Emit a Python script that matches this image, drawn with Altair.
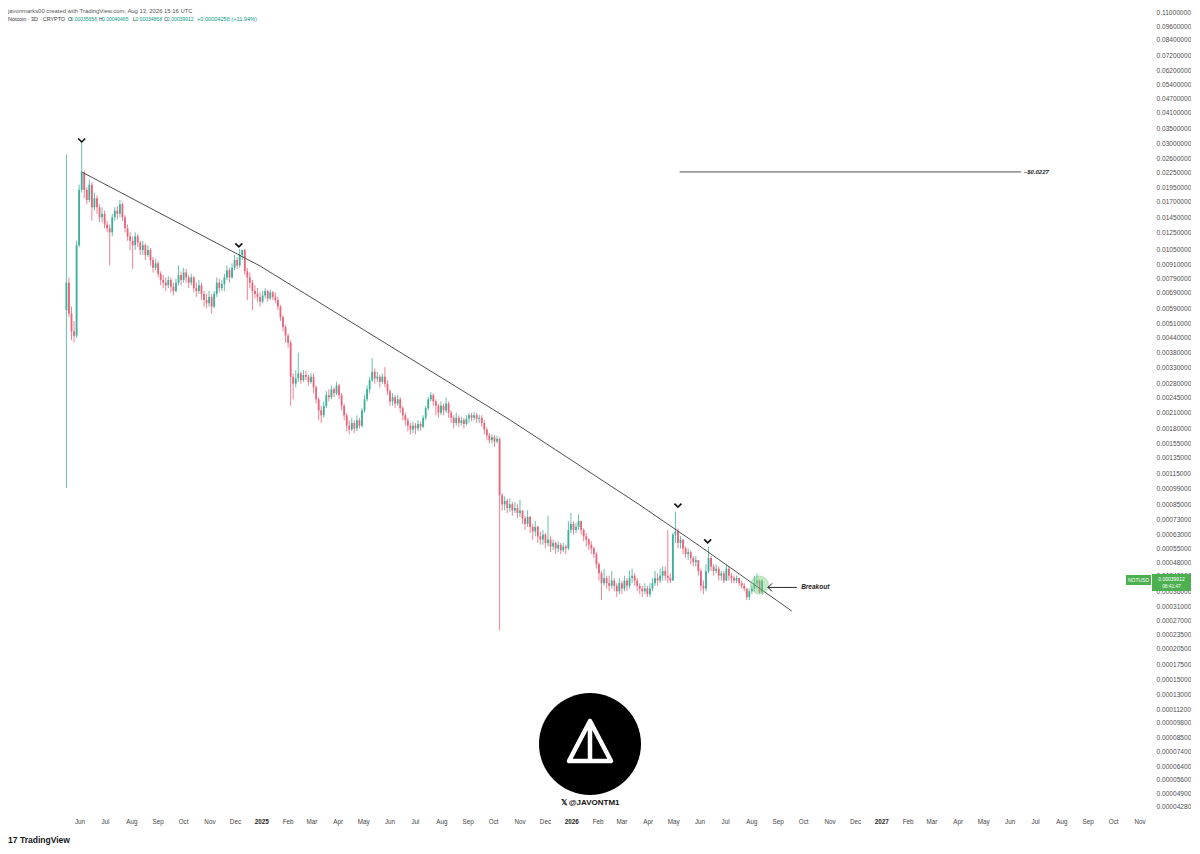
import altair as alt
import numpy as np
import pandas as pd

# ---------------- data (prices in units of 1e-5 USD) ----------------
UNIT = 1e-5
CANDLE_START = "2024-05-16"
CANDLE_STEP = "3D"
FIRST_OPEN = 580

CLOSE = [
    760, 560, 470, 450, 1100, 1900, 2250, 1900, 1720, 2000,
    1600, 1750, 1600, 1450, 1500, 1350, 1300, 1250, 1450, 1550,
    1500, 1650, 1450, 1300, 1200, 1150, 1100, 1200, 1130, 1050,
    1100, 1000, 1050, 950, 880, 920, 830, 780, 760, 740,
    780, 730, 700, 760, 820, 780, 840, 800, 760, 800,
    720, 700, 740, 680, 640, 620, 660, 600, 680, 760,
    720, 750, 800, 860, 800, 880, 950, 900, 1000, 1050,
    850, 800, 760, 700, 680, 660, 630, 670, 700, 650,
    690, 660, 640, 600, 540, 490, 450, 420, 300, 280,
    295, 310, 290, 305, 300, 285, 300, 270, 240, 215,
    205, 225, 250, 245, 265, 255, 275, 250, 225, 205,
    185, 178, 190, 180, 195, 185, 215, 240, 265, 290,
    315, 295, 300, 285, 300, 280, 260, 235, 245, 230,
    240, 220, 205, 195, 185, 178, 185, 180, 188, 183,
    200, 220, 240, 250, 235, 225, 210, 225, 215, 230,
    210, 200, 190, 200, 190, 195, 188, 198, 205, 200,
    205, 198, 200, 190, 178, 168, 160, 165, 158, 162,
    93, 85, 88, 82, 85, 80, 82, 78, 80, 74,
    70, 75, 68, 65, 68, 62, 60, 63, 58, 60,
    56, 58, 55, 57, 54, 56, 55, 66, 70, 66,
    68, 72, 66, 62, 60, 57, 55, 52, 47, 43,
    39, 41, 39, 38,
    40, 38, 36, 39, 37, 40, 38, 41, 42, 40,
    38, 37, 36, 37, 35, 37, 39, 41, 40, 42,
    44, 42, 41, 40, 63, 65, 58, 60, 55, 52,
    53, 50, 48, 49, 44, 38, 37, 44, 50, 46,
    44, 45, 42, 43, 40, 45, 42, 41, 40, 41,
    39, 38, 37, 34, 36, 37, 39,
    40, 35.656, 39.912,
]
HIGH = [
    2700, 800, 600, 520, 1150, 2000, 3050, 2300, 1950, 2100,
    2050, 1850, 1800, 1650, 1600, 1550, 1400, 1350, 1500, 1600,
    1620, 1720, 1680, 1480, 1350, 1250, 1200, 1250, 1230, 1150,
    1150, 1120, 1100, 1070, 980, 960, 940, 850, 820, 800,
    810, 800, 760, 790, 900, 850, 880, 870, 820, 830,
    810, 760, 780, 760, 700, 680, 700, 680, 700, 800,
    790, 780, 830, 900, 880, 920, 1000, 980, 1060, 1050,
    1060, 880, 840, 780, 740, 720, 690, 700, 720, 710,
    710, 700, 690, 660, 610, 550, 500, 460, 430, 310,
    320, 380, 315, 320, 318, 305, 310, 310, 275, 245,
    225, 235, 260, 265, 275, 270, 285, 280, 255, 230,
    210, 195, 200, 195, 205, 200, 220, 250, 275, 300,
    360, 325, 315, 305, 310, 330, 290, 265, 255, 250,
    250, 245, 225, 210, 200, 190, 192, 190, 195, 193,
    205, 225, 245, 258, 255, 240, 230, 235, 230, 245,
    235, 215, 205, 210, 205, 202, 200, 205, 210, 210,
    212, 210, 206, 205, 195, 182, 172, 170, 168, 167,
    165, 95, 92, 90, 90, 87, 87, 85, 89, 80,
    76, 80, 76, 70, 72, 69, 65, 66, 64, 76,
    62, 60, 59, 59, 58, 58, 57, 72, 78, 72,
    71, 77, 72, 67, 64, 61, 59, 56, 53, 48,
    44, 45, 42, 42,
    44, 41, 39, 41, 40, 42, 41, 44, 45, 43,
    41, 39, 38, 39, 38, 39, 41, 44, 43, 45,
    46, 46, 66, 43, 64, 79, 67, 62, 60, 56,
    55, 54, 51, 51, 49, 45, 40, 47, 56, 51,
    47, 47, 46, 44, 44, 47, 46, 43, 42, 42,
    41, 40, 39, 37, 37, 38, 42,
    43, 40.5, 40.465,
]
LOW = [
    100, 540, 430, 420, 440, 1080, 1850, 1750, 1650, 1680,
    1400, 1550, 1500, 1380, 1380, 1300, 1250, 900, 1200, 1400,
    1420, 1450, 1400, 1250, 1150, 1050, 870, 1050, 1080, 1000,
    1000, 950, 980, 900, 840, 860, 800, 740, 720, 700,
    720, 690, 670, 690, 740, 740, 760, 760, 720, 740,
    690, 660, 680, 640, 600, 590, 600, 560, 590, 660,
    690, 700, 700, 780, 760, 790, 860, 870, 880, 950,
    820, 640, 720, 580, 650, 630, 600, 620, 650, 630,
    640, 640, 620, 580, 520, 470, 420, 400, 225, 240,
    270, 285, 280, 285, 290, 275, 280, 255, 230, 195,
    190, 200, 220, 235, 240, 245, 250, 240, 215, 195,
    175, 170, 175, 172, 175, 180, 182, 210, 235, 255,
    285, 280, 285, 270, 280, 270, 250, 225, 225, 220,
    225, 210, 195, 185, 175, 170, 172, 170, 175, 176,
    180, 195, 215, 235, 225, 205, 200, 205, 205, 210,
    200, 190, 180, 185, 182, 185, 180, 185, 190, 193,
    195, 190, 190, 183, 170, 160, 155, 155, 150, 155,
    24.5, 80, 80, 78, 79, 76, 78, 74, 75, 70,
    66, 68, 64, 60, 62, 58, 57, 57, 55, 56,
    53, 54, 52, 53, 52, 53, 52, 54, 64, 63,
    64, 66, 63, 59, 56, 54, 52, 50, 45, 40,
    33, 38, 37, 36,
    37, 36, 34, 35, 35, 36, 36, 37, 39, 38,
    36, 35, 34, 35, 34, 34, 36, 38, 38, 39,
    40, 40, 39, 39, 40, 58, 55, 55, 52, 50,
    49, 47, 46, 46, 42, 36, 35, 36, 43, 44,
    42, 43, 40, 40, 39, 40, 40, 39, 39, 39,
    38, 37, 36, 33, 33, 35, 36,
    37, 35.2, 34.868,
]

# drawn trend line (resistance) through the lower highs
TREND_DATES = ["2024-06-03", "2024-12-30", "2025-10-20", "2026-03-22", "2026-05-31", "2026-09-17"]
TREND_PRICE = [0.0227, 0.00896, 0.00196, 0.000845, 0.000565, 0.000296]

# target line
TARGET_PRICE = 0.0227
TARGET_DATES = ["2026-05-08", "2027-06-14"]
TARGET_LABEL_DATE = "2027-06-17"
TARGET_LABEL = "~$0.0227"

# rejection markers
PEAK_DATES = ["2024-06-03", "2024-12-05", "2026-05-06", "2026-06-10"]
PEAK_PRICE = [0.0310, 0.0110, 0.00084, 0.00059]

# breakout annotation
BREAKOUT_DATE = "2026-08-10"
BREAKOUT_PRICE = 0.000383
ARROW_DATES = ["2026-08-20", "2026-09-23"]
ARROW_PRICE = 0.000374
BREAKOUT_LABEL_DATE = "2026-09-28"

# price axis labels
Y_TICKS = [0.11, 0.096, 0.084, 0.072, 0.062, 0.054, 0.047, 0.041, 0.035, 0.030,
           0.026, 0.0225, 0.0195, 0.017, 0.0145, 0.0125, 0.0105, 0.0091, 0.0079,
           0.0069, 0.0059, 0.0051, 0.0044, 0.0038, 0.0033, 0.0028, 0.00245,
           0.0021, 0.0018, 0.00155, 0.00135, 0.00115, 0.00099, 0.00085, 0.00073,
           0.00063, 0.00055, 0.00048, 0.00042, 0.00036, 0.00031, 0.00027,
           0.000235, 0.000205, 0.000175, 0.00015, 0.00013, 0.000112, 0.000098,
           0.000085, 0.000074, 0.000064, 0.000056, 0.000049, 0.0000428]
# time axis labels (one per month)
X_TICK_START = "2024-06-01"
X_TICK_END = "2027-11-01"

X_DOMAIN = ["2024-03-08T06:00:00", "2027-11-15T02:00:00"]
Y_DOMAIN = [0.00003946, 0.11469]


# ---------------- helpers ----------------
def iso(d):
    return pd.Timestamp(d, tz="UTC").strftime("%Y-%m-%dT%H:%M:%SZ")


def ms(d):
    return int(pd.Timestamp(d, tz="UTC").value // 10**6)


n = len(CLOSE)
assert len(HIGH) == n and len(LOW) == n
dates = pd.date_range(CANDLE_START, periods=n, freq=CANDLE_STEP, tz="UTC")
opens = np.array([FIRST_OPEN] + CLOSE[:-1], dtype=float) * UNIT
closes = np.array(CLOSE, dtype=float) * UNIT
highs = np.maximum.reduce([np.array(HIGH, dtype=float) * UNIT, opens, closes])
lows = np.minimum.reduce([np.array(LOW, dtype=float) * UNIT, opens, closes])
df = pd.DataFrame({
    "date": dates.strftime("%Y-%m-%dT%H:%M:%SZ"),
    "open": opens, "close": closes, "high": highs, "low": lows,
})
df["dir"] = np.where(df["close"] >= df["open"], "up", "down")

months = pd.date_range(X_TICK_START, X_TICK_END, freq="MS", tz="UTC")
mdf = pd.DataFrame({
    "date": months.strftime("%Y-%m-%dT%H:%M:%SZ"),
    "lbl": [str(m.year) if m.month == 1 else m.strftime("%b") for m in months],
    "year": [m.month == 1 for m in months],
})

UP = "#3bb09a"
DOWN = "#ea6379"
LINE = "#3a3a3a"
GREEN = "#4caf50"
FONT = "Liberation Sans"

xscale = alt.Scale(type="utc", domain=[ms(X_DOMAIN[0]), ms(X_DOMAIN[1])], nice=False)
yscale = alt.Scale(type="log", domain=Y_DOMAIN, nice=False)

xaxis = alt.Axis(labels=False, domain=False, ticks=False, grid=False, title=None)
yaxis = alt.Axis(
    orient="right", values=Y_TICKS, format=".8f",
    labelFontSize=6.6, labelColor="#505050", labelFont=FONT,
    domain=False, ticks=False, tickSize=0, grid=False, labelPadding=4,
    labelOverlap=False, labelFlush=False, title=None,
)
color = alt.Color("dir:N", scale=alt.Scale(domain=["up", "down"], range=[UP, DOWN]), legend=None)

XT = alt.X("date:T", title=None)
YP = alt.Y("price:Q", title=None)

base = alt.Chart(df)
wicks = base.mark_rule(strokeWidth=0.8).encode(
    x=alt.X("date:T", scale=xscale, axis=xaxis, title=None),
    y=alt.Y("low:Q", scale=yscale, axis=yaxis, title=None),
    y2="high:Q",
    color=color,
)
bodies = base.mark_rule(strokeWidth=1.8).encode(
    x=XT, y=alt.Y("open:Q", title=None), y2="close:Q", color=color,
)

# month / year labels of the time axis
month_lbl = alt.Chart(mdf).transform_filter("!datum.year").mark_text(
    baseline="middle", align="center", fontSize=6.3, color="#444", font=FONT
).encode(x=XT, y=alt.value(814), text="lbl:N")
year_lbl = alt.Chart(mdf).transform_filter("datum.year").mark_text(
    baseline="middle", align="center", fontSize=6.3, color="#222", font=FONT, fontWeight="bold"
).encode(x=XT, y=alt.value(814), text="lbl:N")

trend_df = pd.DataFrame({"date": [iso(d) for d in TREND_DATES], "price": TREND_PRICE})
trend = alt.Chart(trend_df).mark_line(color=LINE, strokeWidth=0.9).encode(x=XT, y=YP)

target_df = pd.DataFrame({"date": [iso(TARGET_DATES[0])], "date2": [iso(TARGET_DATES[1])],
                          "price": [TARGET_PRICE]})
target = alt.Chart(target_df).mark_rule(color=LINE, strokeWidth=0.9).encode(x=XT, x2="date2:T", y=YP)
target_lbl_df = pd.DataFrame({"date": [iso(TARGET_LABEL_DATE)], "price": [TARGET_PRICE], "t": [TARGET_LABEL]})
target_lbl = alt.Chart(target_lbl_df).mark_text(
    align="left", baseline="middle", fontSize=6, fontStyle="italic", fontWeight="bold",
    color="#222", font=FONT
).encode(x=XT, y=YP, text="t:N")

peaks_df = pd.DataFrame({"date": [iso(d) for d in PEAK_DATES], "price": PEAK_PRICE})
peaks = alt.Chart(peaks_df).mark_point(
    shape="M-1,-0.55L0,0.45L1,-0.55", size=49, filled=False, stroke="#111",
    strokeWidth=1.6, opacity=1
).encode(x=XT, y=YP)

bo_df = pd.DataFrame({"date": [iso(BREAKOUT_DATE)], "price": [BREAKOUT_PRICE]})
bo_circle = alt.Chart(bo_df).mark_circle(
    size=324, color="#7ccf80", opacity=0.45, stroke=GREEN, strokeWidth=0.8
).encode(x=XT, y=YP)

arrow_df = pd.DataFrame({"date": [iso(ARROW_DATES[0])], "date2": [iso(ARROW_DATES[1])], "price": [ARROW_PRICE]})
arrow_shaft = alt.Chart(arrow_df).mark_rule(color="#111", strokeWidth=0.9).encode(x=XT, x2="date2:T", y=YP)
arrow_head = alt.Chart(arrow_df).mark_point(
    shape="M1.6,-1.6L0,0L1.6,1.6", size=25, filled=False, stroke="#111", strokeWidth=1, opacity=1
).encode(x=XT, y=YP)
bo_lbl_df = pd.DataFrame({"date": [iso(BREAKOUT_LABEL_DATE)], "price": [ARROW_PRICE], "t": ["Breakout"]})
bo_lbl = alt.Chart(bo_lbl_df).mark_text(
    align="left", baseline="middle", fontSize=6.5, fontStyle="italic", fontWeight="bold",
    color="#222", font=FONT
).encode(x=XT, y=YP, text="t:N")

ONE = pd.DataFrame({"k": [0]})


def txt(text, x, y, size, col, weight="normal", align="left", font=FONT, style="normal"):
    return alt.Chart(ONE).mark_text(
        text=text, align=align, baseline="middle", fontSize=size, color=col,
        fontWeight=weight, fontStyle=style, font=font
    ).encode(x=alt.value(x), y=alt.value(y))


def box(x1, x2, y1, y2, col):
    return alt.Chart(ONE).mark_rect(color=col).encode(
        x=alt.value(x1), x2=alt.value(x2), y=alt.value(y1), y2=alt.value(y2)
    )


HG = "#089981"
HS = 5.0
header = [
    txt("javonmarks00 created with TradingView.com, Aug 13, 2026 15:16 UTC", 0, 3, 5.9, "#555"),
    txt("Notcoin · 3D · CRYPTO", 0, 10.5, 5.4, "#333"),
    txt("O", 60, 10.5, HS, "#333"), txt("0.00035656", 62.5, 10.5, HS, HG),
    txt("H", 91, 10.5, HS, "#333"), txt("0.00040465", 94, 10.5, HS, HG),
    txt("L", 125, 10.5, HS, "#333"), txt("0.00034868", 127.5, 10.5, HS, HG),
    txt("C", 156, 10.5, HS, "#333"), txt("0.00039912", 159, 10.5, HS, HG),
    txt("+0.00004256 (+11.94%)", 189, 10.5, 5.6, HG),
]

price_tag = [
    box(1118, 1143, 567, 577, GREEN),
    txt("NOTUSD", 1130.5, 572, 5.0, "white", align="center"),
    box(1144, 1183, 566, 583, GREEN),
    txt("0.00039912", 1163.5, 570.5, 5.0, "white", align="center"),
    txt("08:41:47", 1163.5, 578.5, 4.8, "white", align="center"),
]

logo = [
    alt.Chart(ONE).mark_circle(size=10404, color="black", opacity=1).encode(
        x=alt.value(582), y=alt.value(736)),
    alt.Chart(ONE).mark_point(
        shape="M0,-1L1.05,1L-1.05,1Z M0,-1L0,1", size=1600, filled=False, stroke="white",
        strokeWidth=4.5, strokeJoin="round", strokeCap="round", opacity=1
    ).encode(x=alt.value(582), y=alt.value(733)),
    txt("𝕏 @JAVONTM1", 582, 795, 8, "#111", weight="bold", align="center"),
]

footer = [
    txt("17", 0, 832, 8.5, "#131722", weight="bold"),
    txt("TradingView", 12, 832, 8.5, "#131722", weight="bold"),
]

chart = alt.layer(
    wicks, bodies, month_lbl, year_lbl, trend, target, target_lbl, peaks, bo_circle,
    arrow_shaft, arrow_head, bo_lbl, *logo, *price_tag, *header, *footer
).properties(
    width=1144, height=807, padding=0, background="white"
).configure_view(stroke=None)

chart.save("out.html", embed_options={"renderer": "svg", "actions": False})
